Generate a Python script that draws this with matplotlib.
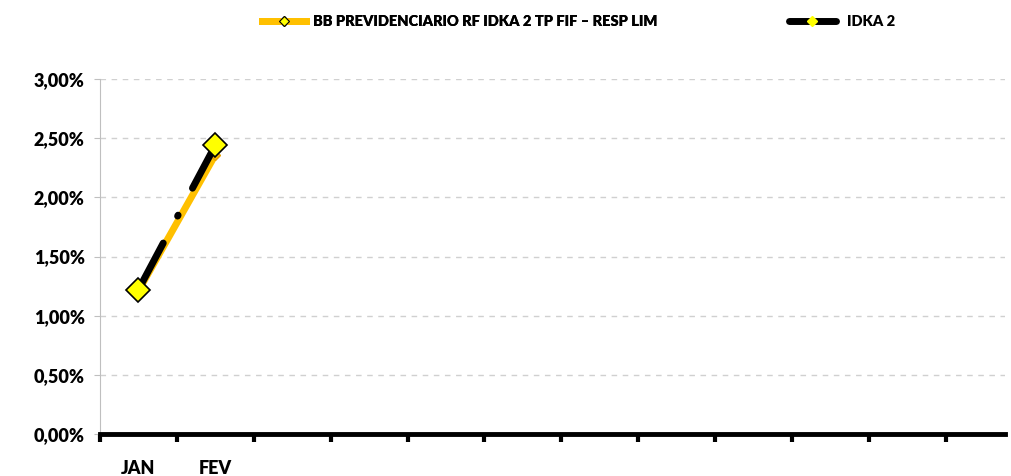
import matplotlib
matplotlib.use('Agg')
import matplotlib.pyplot as plt
from matplotlib.lines import Line2D
from matplotlib.ticker import FuncFormatter, FixedLocator

# dados
meses = ["JAN", "FEV", "MAR", "ABR", "MAI", "JUN", "JUL", "AGO", "SET", "OUT", "NOV", "DEZ"]
fundo_nome = "BB PREVIDENCIARIO RF IDKA 2 TP FIF – RESP LIM"
bench_nome = "IDKA 2"
fundo_valores = [1.21, 2.36]
bench_valores = [1.22, 2.44]
y_ticks = [0.0, 0.5, 1.0, 1.5, 2.0, 2.5, 3.0]

plt.rcParams['font.family'] = ['Lato', 'DejaVu Sans']
plt.rcParams['font.weight'] = 'heavy'

fig = plt.figure(figsize=(10.11, 4.76), dpi=100)
ax = fig.add_axes([100 / 1011, 42 / 476, 905 / 1011, 355 / 476])

x_f = list(range(len(fundo_valores)))
x_b = list(range(len(bench_valores)))

ax.plot(x_f, fundo_valores, color="#FFC000", lw=5, solid_capstyle="butt",
        marker="D", ms=5, mfc="#FFC000", mec="#E6A000", zorder=3)
ax.plot(x_b, bench_valores, color="black", lw=5, dashes=(7.6, 4.4, 0.15, 4.4),
        dash_capstyle="round", marker="D", ms=12, mfc="#FFFF00", mec="black",
        mew=1.2, zorder=4)

ax.set_ylim(0, 3.0)
ax.set_xlim(-0.5, 11.27)
ax.set_yticks(y_ticks)
ax.yaxis.set_major_formatter(FuncFormatter(lambda v, p: f"{v:.2f}%".replace(".", ",")))
ax.tick_params(axis="y", length=4, width=0.8, color="#BFBFBF", labelsize=13, pad=7)

ax.xaxis.set_major_locator(FixedLocator([i - 0.5 for i in range(12)]))
ax.xaxis.set_minor_locator(FixedLocator(list(range(2))))
ax.set_xticklabels([""] * 12)
ax.set_xticklabels(meses[:2], minor=True)
ax.tick_params(axis="x", which="major", length=6, width=3, color="black", direction="out")
ax.tick_params(axis="x", which="minor", length=0, labelsize=13, pad=19)

ax.grid(axis="y", color="#D0D0D0", ls=(0, (4, 4)), lw=1)
ax.set_axisbelow(True)
for lado in ["top", "right"]:
    ax.spines[lado].set_visible(False)
ax.spines["left"].set_color("#BFBFBF")
ax.spines["left"].set_linewidth(0.8)
ax.spines["bottom"].set_color("black")
ax.spines["bottom"].set_linewidth(3.5)

h_fundo = Line2D([], [], color="#FFC000", lw=5, marker="D", ms=5, mfc="#FFFF00",
                 mec="black", mew=0.8)
h_bench = Line2D([], [], color="black", lw=5, solid_capstyle="round", marker="D", ms=5,
                 mfc="#FFFF00", mec="#FFFF00")
leg1 = fig.legend([h_fundo], [fundo_nome], loc="center left", bbox_to_anchor=(262 / 1011, 1 - 22 / 476),
                  frameon=False, fontsize=10.5, handlelength=3.0, handletextpad=0.5,
                  borderpad=0, borderaxespad=0)
fig.add_artist(leg1)
fig.legend([h_bench], [bench_nome], loc="center left", bbox_to_anchor=(789 / 1011, 1 - 22 / 476),
           frameon=False, fontsize=10.5, handlelength=3.2, handletextpad=0.8,
           borderpad=0, borderaxespad=0)

fig.savefig("out.png", dpi=100)
